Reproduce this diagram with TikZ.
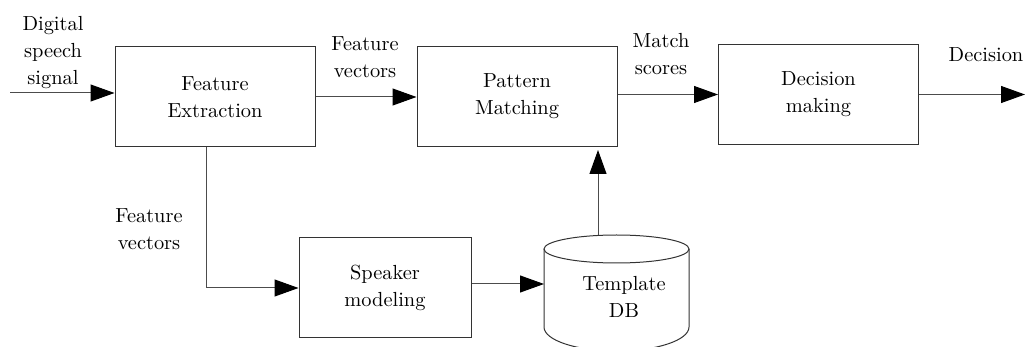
\documentclass[tikz,border=0pt]{standalone}
\usetikzlibrary{arrows.meta}
\tikzset{
	block/.style={draw=black!80, line width=0.5pt, minimum width=100pt, minimum height=50pt, align=center, inner sep=0pt},
	lbl/.style={align=center, inner sep=0pt},
	flow/.style={draw=black!70, line width=0.5pt, -{Triangle[length=12pt,width=8.5pt,color=black]}}
}
\begin{document}
\begin{tikzpicture}[x=0.5pt, y=-0.5pt, font=\rmfamily\fontsize{10.2}{13.5}\selectfont]
	\useasboundingbox (0,0) rectangle (1029,347);
	\clip (0,0) rectangle (1029,347);
	% blocks
	\node[block] (fe) at (215,97) {Feature\\Extraction};
	\node[block] (pm) at (517,96.5) {Pattern\\Matching};
	\node[block] (dm) at (818.5,94.5) {Decision\\making};
	\node[block, minimum width=86pt] (sm) at (385,288) {Speaker\\modeling};
	% template database
	\coordinate (db) at (616.5,249);
	\draw[black!80, line width=0.5pt] (db) ellipse [x radius=72.5, y radius=14];
	\draw[black!80, line width=0.5pt] (db) ++(-72.5,0) -- ++(0,78)
		arc [start angle=180, end angle=0, x radius=72.5, y radius=24] -- ++(0,-78);
	\node[lbl] (dbtxt) at (624,297) {Template\\DB};
	% free ends
	\coordinate (in) at (10,93);
	\coordinate (out) at (1025,94.5);
	\coordinate (fedown) at (206,288);
	\coordinate (dbin) at (544,284);
	\coordinate (dbtop) at (598,235.5);
	% connectors
	\draw[flow] (in) -- (in -| fe.west);
	\draw[flow] (fe.east) -- (fe.east -| pm.west);
	\draw[flow] (pm.east |- dm.west) -- (dm.west);
	\draw[flow] (dm.east) -- (out);
	\draw[flow] (fe.south -| fedown) |- (sm.west);
	\draw[flow] (sm.east |- dbin) -- (dbin);
	\draw[flow, shorten >=1.5pt] (dbtop) -- (dbtop |- pm.south);
	% labels
	\node[lbl] (siglbl) at (53,53) {Digital\\speech\\signal};
	\node[lbl] (fvlbl) at (365,57) {Feature\\vectors};
	\node[lbl] (mslbl) at (661,54) {Match\\scores};
	\node[lbl] (declbl) at (986,55) {Decision};
	\node[lbl] (fvlbl2) at (149,229) {Feature\\vectors};
\end{tikzpicture}
\end{document}
